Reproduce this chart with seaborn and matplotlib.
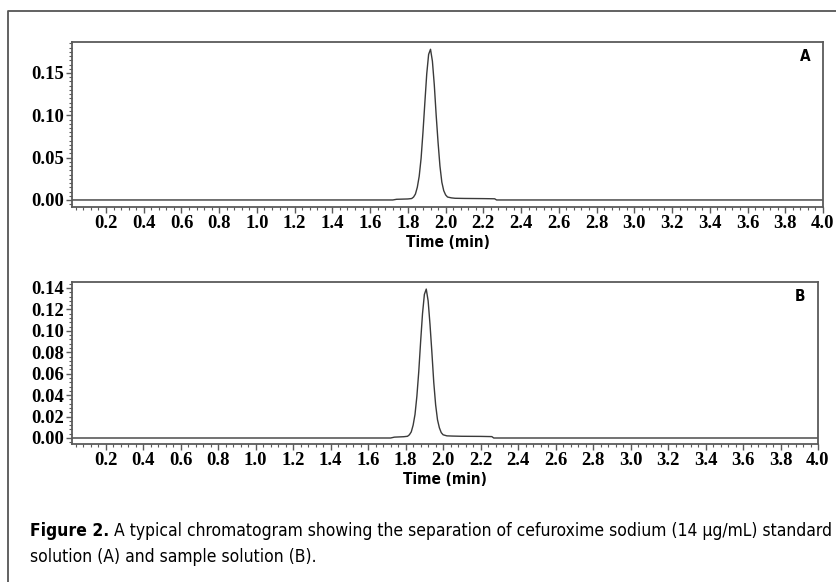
import matplotlib
matplotlib.use("Agg")
import matplotlib.pyplot as plt
import seaborn as sns
import pandas as pd
from matplotlib.ticker import MultipleLocator, FormatStrFormatter
from matplotlib.lines import Line2D

# ---- data ----
time_a = [0.02, 1.72, 1.74, 1.80, 1.82, 1.83, 1.84, 1.85, 1.86, 1.87, 1.88, 1.89, 1.90,
          1.91, 1.92, 1.93, 1.94, 1.95, 1.96, 1.97, 1.98, 1.99, 2.00, 2.01, 2.03, 2.05,
          2.10, 2.20, 2.26, 2.27, 4.00]
abs_a = [0.0, 0.0, 0.0008, 0.0012, 0.0017, 0.0034, 0.007, 0.015, 0.028, 0.049, 0.080,
         0.115, 0.149, 0.172, 0.178, 0.164, 0.136, 0.100, 0.068, 0.040, 0.021, 0.011,
         0.006, 0.0035, 0.0025, 0.002, 0.0018, 0.0016, 0.0014, 0.0, 0.0]

time_b = [0.02, 1.72, 1.74, 1.79, 1.81, 1.82, 1.83, 1.84, 1.85, 1.86, 1.87, 1.88, 1.89,
          1.90, 1.91, 1.92, 1.93, 1.94, 1.95, 1.96, 1.97, 1.98, 1.99, 2.00, 2.02, 2.05,
          2.10, 2.20, 2.26, 2.27, 4.00]
abs_b = [0.0, 0.0, 0.0008, 0.0012, 0.0016, 0.003, 0.0057, 0.012, 0.022, 0.039, 0.062,
         0.090, 0.116, 0.134, 0.139, 0.128, 0.106, 0.080, 0.052, 0.031, 0.017, 0.0095,
         0.005, 0.003, 0.002, 0.0018, 0.0016, 0.0015, 0.0013, 0.0, 0.0]

x_ticks = [0.2, 0.4, 0.6, 0.8, 1.0, 1.2, 1.4, 1.6, 1.8, 2.0, 2.2, 2.4, 2.6, 2.8, 3.0,
           3.2, 3.4, 3.6, 3.8, 4.0]
y_ticks_a = [0.00, 0.05, 0.10, 0.15]
y_ticks_b = [0.00, 0.02, 0.04, 0.06, 0.08, 0.10, 0.12, 0.14]
panel_labels = ["A", "B"]
x_label = "Time (min)"
caption_bold = "Figure 2."
caption_rest = " A typical chromatogram showing the separation of cefuroxime sodium (14 µg/mL) standard"
caption_line2 = "solution (A) and sample solution (B)."

sns.set_theme(style="ticks")
plt.rcParams['font.family'] = ['DejaVu Sans']

narrow = ['DejaVu Sans']
narrow_stretch = 'condensed'

W, H = 837, 582
fig = plt.figure(figsize=(W / 100, H / 100), dpi=100)
fig.patch.set_facecolor("white")


def px_rect(l, t, r, b):
    return [l / W, 1 - b / H, (r - l) / W, (b - t) / H]


ax_a = fig.add_axes(px_rect(72, 42, 823, 207))
ax_b = fig.add_axes(px_rect(72, 282, 818, 444))

df_a = pd.DataFrame({"t": time_a, "v": abs_a})
df_b = pd.DataFrame({"t": time_b, "v": abs_b})

serif = ['Liberation Serif', 'DejaVu Serif']
spine_col = "#5a5a5a"
renderer = fig.canvas.get_renderer()

for ax, df, yt, ylim, yminor, lab in [
        (ax_a, df_a, y_ticks_a, (-0.0083, 0.1866), 0.005, panel_labels[0]),
        (ax_b, df_b, y_ticks_b, (-0.0056, 0.1456), 0.004, panel_labels[1])]:
    sns.lineplot(data=df, x="t", y="v", ax=ax, color="#3a3a3a", linewidth=1.0,
                 estimator=None, sort=False)
    ax.set_xlim(0.02, 4.0)
    ax.set_ylim(*ylim)
    ax.set_xticks(x_ticks)
    ax.set_yticks(yt)
    ax.xaxis.set_major_formatter(FormatStrFormatter('%.1f'))
    ax.yaxis.set_major_formatter(FormatStrFormatter('%.2f'))
    ax.xaxis.set_minor_locator(MultipleLocator(0.04))
    ax.yaxis.set_minor_locator(MultipleLocator(yminor))
    ax.tick_params(axis='both', which='major', direction='out', length=4, width=1.0,
                   color=spine_col, pad=1.5)
    ax.tick_params(axis='both', which='minor', direction='out', length=2, width=0.8,
                   color=spine_col)
    for t in ax.get_xticklabels() + ax.get_yticklabels():
        t.set_family(serif)
        t.set_fontweight('bold')
        t.set_fontsize(13.4)
        t.set_color("black")
    for s in ax.spines.values():
        s.set_visible(True)
        s.set_color(spine_col)
        s.set_linewidth(1.3)
    ax.set_ylabel("")
    ax.set_xlabel(x_label, family=narrow, fontstretch=narrow_stretch,
                  fontweight='bold', fontsize=11.0, labelpad=2.5, color="black")
    ax.text(0.983, 0.91, lab, transform=ax.transAxes, ha='right', va='center',
            family=narrow, fontstretch=narrow_stretch, fontweight='bold',
            fontsize=11.0, color="black")
    ax.set_facecolor("white")

# outer frame (left and top edges)
fig.add_artist(Line2D([8 / W, 8 / W, 1.0], [0.0, 1 - 11 / H, 1 - 11 / H],
                      transform=fig.transFigure, color="#555555", linewidth=1.3))

# caption
y1 = 1 - 531 / H
y2 = 1 - 557 / H
x0 = 30
target_w = 833 - 30
fs = 12.0
t1 = fig.text(x0 / W, y1, caption_bold, family=narrow, fontstretch=narrow_stretch,
              fontweight='bold', fontsize=fs, ha='left', va='center', color="black")
t2 = fig.text(x0 / W, y1, caption_rest, family=narrow, fontstretch=narrow_stretch,
              fontsize=fs, ha='left', va='center', color="black")
w1 = t1.get_window_extent(renderer).width
w2 = t2.get_window_extent(renderer).width
fs = fs * target_w / (w1 + w2)
t1.set_fontsize(fs)
t2.set_fontsize(fs)
w1 = t1.get_window_extent(renderer).width
t2.set_x((x0 + w1) / W)
fig.text(x0 / W, y2, caption_line2, family=narrow, fontstretch=narrow_stretch,
         fontsize=fs, ha='left', va='center', color="black")

fig.savefig("out.png", dpi=100, facecolor="white")
